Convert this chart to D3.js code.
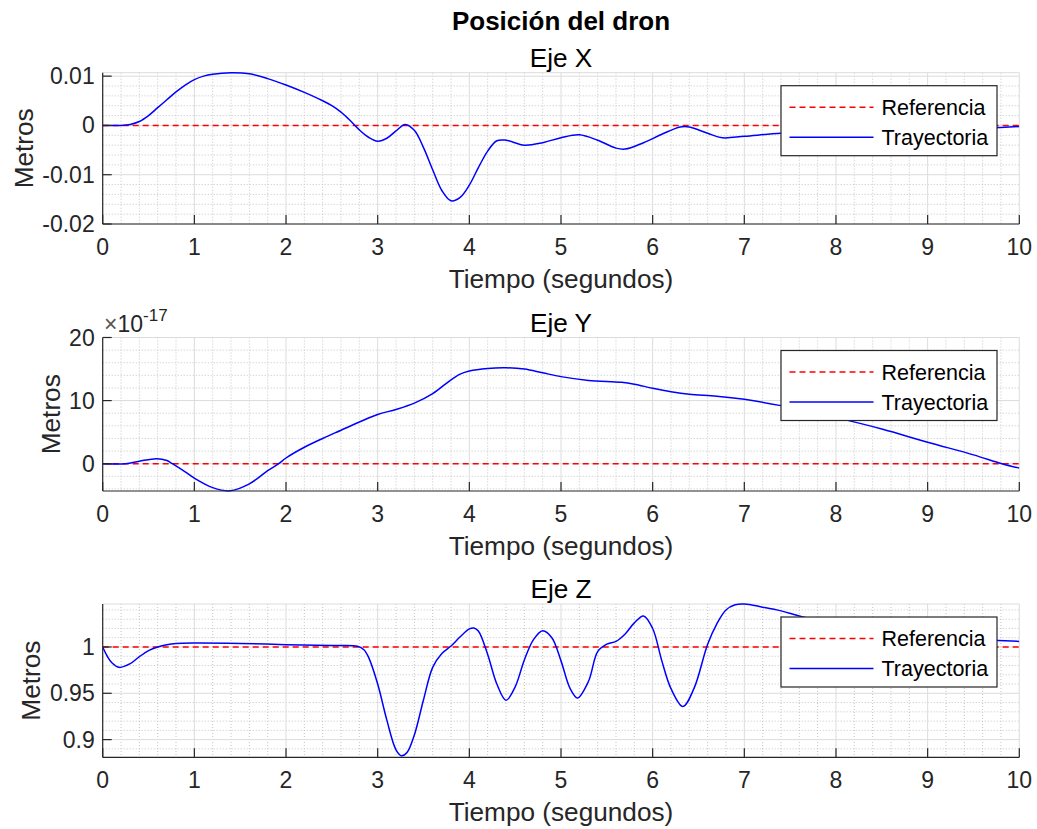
<!DOCTYPE html>
<html><head><meta charset="utf-8">
<script src="https://cdn.jsdelivr.net/npm/d3@7"></script>
<style>
body{margin:0;background:#fff;}
svg{display:block;font-family:"Liberation Sans",Arial,Helvetica,sans-serif;}
</style>
</head><body>
<svg id="chart" width="1037" height="829"></svg>
<script>
// ---------------- DATA ----------------
const figureTitle = "Posición del dron";
const panelTitles = ["Eje X", "Eje Y", "Eje Z"];
const xLabel = "Tiempo (segundos)";
const yLabel = "Metros";
const legendLabels = ["Referencia", "Trayectoria"];

const xTicks = [0,1,2,3,4,5,6,7,8,9,10];

// Eje X (metros)
const timeX = [0,0.2,0.3,0.4,0.5,0.6,0.7,0.8,0.9,1.0,1.1,1.2,1.4,1.6,1.8,2.0,2.2,2.4,2.5,2.6,2.7,2.8,2.9,3.0,3.1,3.2,3.3,3.4,3.5,3.6,3.7,3.8,3.9,4.0,4.1,4.2,4.3,4.4,4.6,4.8,5.0,5.2,5.4,5.6,5.7,5.9,6.1,6.3,6.4,6.6,6.76,7.0,7.4,8.0,9.0,9.8,10];
const posX  = [0,0,0.0002,0.0008,0.0020,0.0036,0.0052,0.0068,0.0082,0.0093,0.0100,0.0104,0.0107,0.0105,0.0095,0.0082,0.0067,0.0050,0.0040,0.0027,0.0010,-0.0009,-0.0024,-0.0032,-0.0026,-0.0011,0.0002,-0.0010,-0.0045,-0.0090,-0.0132,-0.0153,-0.0146,-0.0121,-0.0085,-0.0052,-0.0031,-0.0030,-0.0040,-0.0035,-0.0025,-0.0019,-0.0030,-0.0046,-0.0048,-0.0035,-0.0018,-0.0003,-0.0003,-0.0016,-0.0025,-0.0022,-0.0016,-0.0012,-0.0008,-0.0004,-0.0002];
const refX  = [0, 0];
const yTicksX = [-0.02,-0.01,0,0.01];

// Eje Y (metros, en unidades de 1e-17)
const yExponent = -17;
const timeY = [0,0.25,0.4,0.59,0.7,0.76,0.9,1.0,1.2,1.39,1.6,1.8,1.92,2.0,2.2,2.4,2.6,2.8,3.0,3.2,3.4,3.6,3.8,3.9,4.0,4.2,4.4,4.6,4.8,5.0,5.3,5.66,5.8,6.0,6.2,6.4,6.7,7.0,7.4,8.0,8.5,9.0,9.5,9.81,10];
const posY  = [0,0,0.4,0.8,0.5,0,-1.3,-2.3,-3.8,-4.3,-3.2,-1.1,0,0.9,2.6,4.0,5.3,6.6,7.8,8.6,9.6,11.1,13.3,14.2,14.7,15.1,15.2,15.0,14.4,13.8,13.2,12.9,12.6,11.95,11.4,11.0,10.7,10.2,9.2,7.3,5.5,3.4,1.4,0,-0.7];
const refY  = [0, 0];
const yTicksY = [0,10,20];

// Eje Z (metros)
const timeZ = [0,0.05,0.1,0.18,0.3,0.4,0.5,0.6,0.7,0.8,1.0,1.5,2.0,2.5,2.78,2.85,2.9,3.0,3.1,3.2,3.26,3.32,3.4,3.5,3.6,3.7,3.8,3.9,4.0,4.05,4.1,4.2,4.3,4.4,4.5,4.6,4.7,4.8,4.9,5.0,5.1,5.18,5.3,5.4,5.5,5.6,5.7,5.8,5.9,6.0,6.1,6.2,6.33,6.45,6.6,6.7,6.8,6.9,7.0,7.2,7.4,7.64,8.5,9.2,9.77,10];
const posZ  = [1.0,0.990,0.983,0.978,0.982,0.9895,0.996,1.000,1.0025,1.0038,1.0043,1.0038,1.0025,1.0015,1.0008,0.997,0.989,0.960,0.921,0.889,0.8825,0.886,0.905,0.943,0.978,0.993,1.001,1.011,1.0195,1.0205,1.017,0.992,0.960,0.9425,0.957,0.986,1.008,1.0175,1.010,0.985,0.955,0.945,0.963,0.995,1.003,1.006,1.014,1.026,1.0335,1.020,0.985,0.955,0.9357,0.955,1.003,1.025,1.040,1.0455,1.0464,1.043,1.039,1.0325,1.018,1.010,1.007,1.006];
const refZ  = [1, 1];
const yTicksZ = [0.9,0.95,1];

// ---------------- LAYOUT ----------------
const colAxis = "#262626";
const svg = d3.select("#chart");
svg.append("rect").attr("width",1037).attr("height",829).attr("fill","#fff");

const xScale = d3.scaleLinear().domain([0,10]).range([102.7,1019.3]);

const panels = [
  {title: panelTitles[0], t: timeX, v: posX, ref: refX, top: 72.7, bottom: 224, domain: [-0.02, 0.0107], ticks: yTicksX, minorStep: 0.002, fmt: d => d === 0 ? "0" : String(d)},
  {title: panelTitles[1], t: timeY, v: posY, ref: refY, top: 337.5, bottom: 491, domain: [-4.33, 20], ticks: yTicksY, minorStep: 2, fmt: d => String(d), exponent: yExponent},
  {title: panelTitles[2], t: timeZ, v: posZ, ref: refZ, top: 604, bottom: 757.3, domain: [0.8809, 1.0464], ticks: yTicksZ, minorStep: 0.01, fmt: d => String(d)}
];

const [x0, x1] = xScale.range();
const tickFont = 23, labelFont = 26.2, legendFont = 21.5;

svg.append("text")
  .attr("x", (x0 + x1) / 2).attr("y", 30)
  .attr("text-anchor", "middle")
  .attr("font-size", 26).attr("font-weight", "bold").attr("fill", "#000")
  .text(figureTitle);

panels.forEach((p, i) => {
  const g = svg.append("g");
  const y = d3.scaleLinear().domain(p.domain).range([p.bottom, p.top]);

  // minor grid
  const minorX = d3.range(0, 10.0001, 0.2).filter(v => Math.abs(v - Math.round(v)) > 1e-6);
  g.append("g").selectAll("line").data(minorX).join("line")
    .attr("x1", d => xScale(d)).attr("x2", d => xScale(d))
    .attr("y1", p.top).attr("y2", p.bottom)
    .attr("stroke", "#c4c4c4").attr("stroke-width", 1).attr("stroke-dasharray", "1,2");
  const start = Math.ceil(p.domain[0] / p.minorStep) * p.minorStep;
  const minorY = d3.range(start, p.domain[1] + 1e-12, p.minorStep)
    .filter(v => !p.ticks.some(t => Math.abs(t - v) < p.minorStep * 1e-3));
  g.append("g").selectAll("line").data(minorY).join("line")
    .attr("x1", x0).attr("x2", x1)
    .attr("y1", d => y(d)).attr("y2", d => y(d))
    .attr("stroke", "#c4c4c4").attr("stroke-width", 1).attr("stroke-dasharray", "1,2");

  // major grid
  g.append("g").selectAll("line").data(xTicks).join("line")
    .attr("x1", d => xScale(d)).attr("x2", d => xScale(d))
    .attr("y1", p.top).attr("y2", p.bottom)
    .attr("stroke", "#dcdcdc").attr("stroke-width", 1);
  g.append("g").selectAll("line").data(p.ticks).join("line")
    .attr("x1", x0).attr("x2", x1)
    .attr("y1", d => y(d)).attr("y2", d => y(d))
    .attr("stroke", "#dcdcdc").attr("stroke-width", 1);
  g.append("line").attr("x1", x0).attr("x2", x1).attr("y1", p.top).attr("y2", p.top)
    .attr("stroke", "#dcdcdc").attr("stroke-width", 1);

  // data
  const clipId = "clip" + i;
  svg.append("clipPath").attr("id", clipId).append("rect")
    .attr("x", x0).attr("y", p.top - 1).attr("width", x1 - x0).attr("height", p.bottom - p.top + 2);
  const line = d3.line().x(d => xScale(d[0])).y(d => y(d[1]));
  g.append("path").datum([[0, p.ref[0]], [10, p.ref[1]]])
    .attr("d", line).attr("fill", "none")
    .attr("stroke", "#ff0000").attr("stroke-width", 1.4).attr("stroke-dasharray", "6,4")
    .attr("clip-path", `url(#${clipId})`);
  const curve = d3.line().x(d => xScale(d[0])).y(d => y(d[1])).curve(d3.curveCatmullRom.alpha(0.5));
  g.append("path").datum(p.t.map((t, k) => [t, p.v[k]]))
    .attr("d", curve).attr("fill", "none")
    .attr("stroke", "#0000ff").attr("stroke-width", 1.5)
    .attr("clip-path", `url(#${clipId})`);

  // axes
  g.append("line").attr("x1", x0).attr("x2", x1).attr("y1", p.bottom).attr("y2", p.bottom)
    .attr("stroke", colAxis).attr("stroke-width", 1.2);
  g.append("line").attr("x1", x0).attr("x2", x0).attr("y1", p.top).attr("y2", p.bottom)
    .attr("stroke", colAxis).attr("stroke-width", 1.2);
  g.append("g").selectAll("line").data(xTicks).join("line")
    .attr("x1", d => xScale(d)).attr("x2", d => xScale(d))
    .attr("y1", p.bottom).attr("y2", p.bottom - 9)
    .attr("stroke", colAxis).attr("stroke-width", 1.2);
  g.append("g").selectAll("line").data(p.ticks).join("line")
    .attr("x1", x0).attr("x2", x0 + 9)
    .attr("y1", d => y(d)).attr("y2", d => y(d))
    .attr("stroke", colAxis).attr("stroke-width", 1.2);

  // tick labels
  g.append("g").selectAll("text").data(xTicks).join("text")
    .attr("x", d => xScale(d)).attr("y", p.bottom + 31)
    .attr("text-anchor", "middle").attr("font-size", tickFont).attr("fill", colAxis)
    .text(d => d);
  const yl = g.append("g").selectAll("text").data(p.ticks).join("text")
    .attr("x", x0 - 8).attr("y", d => y(d)).attr("dy", "0.35em")
    .attr("text-anchor", "end").attr("font-size", tickFont).attr("fill", colAxis)
    .text(p.fmt);
  let minX = Infinity;
  yl.each(function () { minX = Math.min(minX, this.getBBox().x); });

  // exponent
  if (p.exponent !== undefined) {
    const ex = g.append("text").attr("x", 104).attr("y", p.top - 5.5)
      .attr("font-size", 23).attr("fill", colAxis);
    ex.append("tspan").attr("fill", "#555").text("×");
    ex.append("tspan").text("10");
    ex.append("tspan").attr("dy", -11.5).attr("font-size", 17).text(String(p.exponent));
  }

  // labels
  g.append("text")
    .attr("transform", `translate(${minX - 9.5},${(p.top + p.bottom) / 2}) rotate(-90)`)
    .attr("text-anchor", "middle").attr("font-size", labelFont).attr("fill", colAxis)
    .text(yLabel);
  g.append("text")
    .attr("x", (x0 + x1) / 2).attr("y", p.bottom + 63.5)
    .attr("text-anchor", "middle").attr("font-size", labelFont).attr("fill", colAxis)
    .text(xLabel);
  g.append("text")
    .attr("x", (x0 + x1) / 2).attr("y", p.top - 6)
    .attr("text-anchor", "middle").attr("font-size", labelFont).attr("fill", "#000")
    .text(p.title);

  // legend
  const lx = 781, lw = 216, lh = 70, ly = p.top + 13;
  const lg = g.append("g");
  lg.append("rect").attr("x", lx).attr("y", ly).attr("width", lw).attr("height", lh)
    .attr("fill", "#fff").attr("stroke", colAxis).attr("stroke-width", 1.2);
  const items = [
    {label: legendLabels[0], color: "#ff0000", dash: "6,4"},
    {label: legendLabels[1], color: "#0000ff", dash: null}
  ];
  items.forEach((it, k) => {
    const cy = ly + 21.5 + k * 30;
    lg.append("line").attr("x1", lx + 8.5).attr("x2", lx + 92.5).attr("y1", cy).attr("y2", cy)
      .attr("stroke", it.color).attr("stroke-width", it.dash ? 1.4 : 1.5)
      .attr("stroke-dasharray", it.dash);
    lg.append("text").attr("x", lx + 100.5).attr("y", cy).attr("dy", "0.35em")
      .attr("font-size", legendFont).attr("fill", "#000").text(it.label);
  });
});
</script>
</body></html>
